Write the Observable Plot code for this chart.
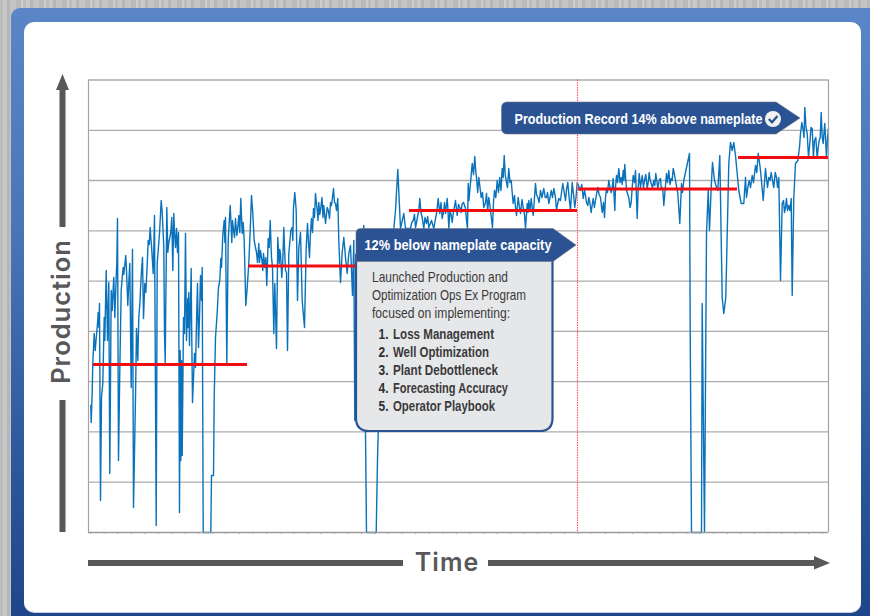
<!DOCTYPE html>
<html>
<head>
<meta charset="utf-8">
<script src="https://cdn.jsdelivr.net/npm/d3@7"></script>
<script src="https://cdn.jsdelivr.net/npm/@observablehq/plot@0.6"></script>
<style>
html,body{margin:0;padding:0;width:870px;height:616px;overflow:hidden;background:#c4c4c4}
#stage{position:relative;width:870px;height:616px;overflow:hidden;
 background:repeating-linear-gradient(90deg,#bdbdbd 0 3px,#c8c8c8 3px 7px,#b6b6b6 7px 10px,#c4c4c4 10px 16px,#bababa 16px 21px,#cdcdcd 21px 23px)}
#frame{position:absolute;left:11px;top:8px;width:870px;height:620px;border-radius:9px;
 background:linear-gradient(180deg,#5a85c6 0%,#4a76b8 35%,#2f5a9f 70%,#1d4488 100%)}
#card{position:absolute;left:24px;top:22px;width:837px;height:590px;background:#fff;border-radius:10px;box-shadow:0 1px 0 #c5cfdf}
#chart,#overlay{position:absolute;left:0;top:0}
svg{display:block}
</style>
</head>
<body>
<div id="stage"><div id="frame"></div><div id="card"></div><div id="chart"></div><div id="overlay"></div></div>
<script>
const timeIndex = [2.3,2.7,3.7,4.3,5.7,6.7,7.7,9,9.7,11,12,13,14.3,15.7,16.3,17.7,19,20.3,21.3,22.7,23.7,25.3,26.3,27.7,29,30,31.3,32.7,33.7,34.7,36,37.3,39.3,41.3,42.7,44,45,47,48,49.3,50.3,52.3,54,55,56.3,58.3,59.7,61.7,63,64.7,66,67.7,68.7,71,72.7,74.7,76,76.7,78.3,79.3,81.3,83.3,84.3,85.3,87,88,90,91,91.7,92.3,93,93.7,95,96,97,98,99.3,101,102.7,104,106,107,109,110,112,113.7,114.7,115.7,122.3,123,125,125.7,127,128.7,130,131.3,132.3,133,134.3,135.7,137,138.3,139.7,141.7,142.7,144,145.3,147,148.3,150.3,152.3,153.7,155.7,157.3,158.7,160.3,161.7,163,164.3,165.7,167,169,170.3,172,173.7,175,176.3,178.3,179.7,181.7,183,185.3,186.3,188,189.3,190.7,192,193.3,195.3,197,199,200.3,202.3,203.7,205,206.3,207.7,209,210.3,212,213.7,216,217.7,219,221,223,225,227,228.7,230.3,232,235.3,237,238.7,241,243,245,247,249.3,250.3,252,253.7,255.3,257,258.7,260.3,262,264,265.3,266.3,268,271,273,275.3,276.5,278,287.7,289,290.3,292,295,298,301,304,307,309.3,312,315.3,317,322,324.7,327,329.3,331.3,333.7,335.3,338,340.3,345.3,348,349.7,351.3,353.7,355.3,357,358.7,360.3,362.7,364.7,367,368.7,371.3,373.7,377,379,379.7,381.3,383.7,386.3,388,390.3,392.7,395.3,398,400.3,402,404,406,408.7,411.3,413.7,415.7,417.7,420.3,422.7,424.7,426,428,429.7,432,434.7,437,438.7,440.3,442.7,444.7,447,449.3,452,455.3,458,460.3,462.7,465.3,468,470.3,472,474.3,477,479.3,482,483.7,486.3,488.7,492,494.7,497,499.3,501.3,502.7,504.7,507,509.3,512,513.7,516,518,520.3,522.7,524.7,526.3,528,530.3,532.7,534.7,536.3,538,540.3,542.7,544.7,547,548.7,550.7,553.7,556,558.7,560.7,562.7,565.3,567.3,569.3,572,573.7,575.3,578,580.3,582.7,584.7,587,589.3,591.3,593,595.3,598,601,601.7,603,613,613.7,616,618,619.7,621,622.7,624,626,628,629.3,631.3,633.7,635.3,637.3,640.3,642,643.7,645.3,647,648.7,650.3,652.7,655.3,657,659.3,662,663.7,667,669.7,672,674.7,677,680.3,682.7,685.3,688,690.3,692,693.7,696,698,700.3,702.7,703.7,705.3,707,709.3,712,714.7,716.3,718.7,721.3,723.7,726,728.7,730.7,732.7,734.7,736.3,738,740];
const production = [127,110,142,169,199,182,194,209,220,229,32,135,149,215,192,262,192,250,59,242,222,255,215,255,314,72,162,242,255,265,265,277,227,269,145,283,25,135,204,172,215,249,275,214,249,259,292,305,287,259,317,7,269,299,332,299,199,170,325,280,295,315,262,319,285,304,300,20,182,72,172,77,215,199,299,192,234,187,264,130,179,165,249,185,257,265,0,0,0,57,57,135,195,220,245,252,274,265,297,312,315,169,292,327,305,312,300,314,297,317,334,299,292,227,245,269,302,337,319,292,285,270,289,282,270,279,265,247,294,312,275,199,249,184,295,269,279,255,305,262,182,279,302,305,325,340,322,232,285,300,232,205,285,309,275,314,324,339,322,330,322,327,309,325,314,327,344,329,334,292,250,280,295,275,259,279,287,237,292,112,280,262,285,307,150,0,0,73,120,200,260,280,270,290,322,363,304,319,304,304,312,305,317,334,315,304,309,305,304,319,334,319,314,322,319,334,304,317,319,332,317,325,329,324,304,349,342,369,376,355,355,335,325,339,335,322,305,342,352,355,364,377,352,364,352,329,337,317,335,319,325,304,329,332,334,317,349,335,342,344,335,329,342,344,322,334,332,349,332,350,322,350,325,350,342,334,337,327,330,320,334,332,345,335,320,315,344,352,340,354,322,357,364,355,362,368,342,335,330,357,362,314,359,357,352,344,360,349,352,359,344,354,345,327,359,362,354,364,352,339,309,349,352,365,379,202,0,0,229,0,299,342,302,345,370,352,345,342,377,235,219,235,369,390,382,390,377,359,342,329,329,355,345,345,357,367,379,362,332,364,355,360,345,355,355,252,329,320,334,327,334,237,335,369,372,399,402,425,399,389,404,392,374,392,420,389,409,374,404];
const detailTime = [6.2,10.4,18.4,24.5,28.3,35.3,38,40.3,51.3,53,57.3,60.7,62.3,65.3,73.7,75.3,80.3,82.3,86,89,99.8,100.3,103,108,111,113,136.4,140.7,143.3,146,149.3,151.3,154.7,168,171,174.3,177.3,180.7,184,191.3,194.3,196,198,201.3,204.3,220,222,224,226,229.5,231.2,233.5,234.5,236,239.8,242,244,246,248,323.3,326,328,330.3,332.5,336.5,339.2,343,346.7,350.5,352.5,354.5,356,359.5,361.5,363.7,365.8,370,372.5,375,378,380.5,382.5,385,387.2,389.2,391.5,394,397,399.2,401,405,407.3,410,412.5,414.7,416.7,419,421.5,423.7,427,431,433.5,436,439.5,441.5,443.7,446,448,450.6,453.5,456.7,459,461.5,464,467,469,473,475.7,478,480.6,485,487.5,493.3,496,498,500.3,503.7,505.9,508,510.6,515,517,519,521.5,523.7,527,529,531.5,533.7,535.5,541.5,543.7,546,549.7,552,555,557.3,559.7,561.7,564,566.3,568.3,570.6,572.8,574.5,579,581.5,583.7,586,588.2,594,658,660.7,665,668.3,671,673.3,676,679,681.5,684,686.7,689,695,697,699,701.5,711,713.3,715.5,717.5,720,722.5,724.9,727.3,729.7,731.7,733.7,735.5,737.2,739];
const detailProduction = [190,205,225,240,270,258,262,250,228,262,240,288,295,285,320,285,290,300,300,280,205,240,220,210,215,232,290,310,290,295,305,300,310,280,270,262,275,285,265,283,272,285,260,290,292,290,300,300,315,312,318,335,315,320,322,330,335,330,322,310,318,310,322,320,315,316,312,312,326,330,318,330,322,322,310,325,328,320,330,312,332,355,358,362,340,345,340,330,322,330,330,335,340,342,355,358,345,350,340,325,325,333,318,320,322,325,335,338,330,335,335,340,335,335,335,328,340,340,343,335,338,335,348,342,330,335,328,325,338,338,330,335,340,345,345,345,350,350,348,352,325,345,350,345,345,345,358,350,352,345,347,352,352,343,340,350,348,352,358,345,340,335,352,350,360,370,348,350,345,352,352,360,345,332,325,322,322,385,410,395,405,375,405,375,395,385,395,395,400,390,395];
const targetStart = [5,160,321,490,650];
const targetEnd = [159,270,489,649,740];
const targetLevel = [168,266.5,322,343.5,375];
const gridLevels = [50.3,100.6,150.8,201.1,251.4,301.7,352,402.2,452.5];
const tickTimes = d3.range(0,55).map(i=>2+i*13.55);
const recordTime = 489;

const series = d3.sort([
  ...timeIndex.map((t,i)=>({t,v:production[i]})),
  ...detailTime.map((t,i)=>({t,v:detailProduction[i]}))
],d=>d.t);
const targets = targetStart.map((s,i)=>({s,e:targetEnd[i],v:targetLevel[i]}));

const plot = Plot.plot({
  width:870,height:616,
  marginLeft:88,marginRight:42,marginTop:79.5,marginBottom:84,
  style:{background:"transparent"},
  x:{domain:[0,740],label:null},
  y:{domain:[0,452.5],label:null},
  marks:[
    Plot.ruleY(gridLevels,{stroke:"#adadad",strokeWidth:1.3}),
    Plot.axisX({ticks:tickTimes,tickSize:2,tickFormat:()=>"",stroke:"#b5b5b5",label:null}),
    Plot.axisY({ticks:[],label:null}),
    Plot.line(series,{x:"t",y:"v",stroke:"#0a72bb",strokeWidth:1.4,curve:"linear"}),
    Plot.ruleY(targets,{x1:"s",x2:"e",y:"v",stroke:"#f10d12",strokeWidth:3}),
    Plot.ruleX([recordTime],{stroke:"#f4606c",strokeWidth:1.2,strokeDasharray:"1.5,1"}),
    Plot.ruleY([0],{stroke:"#9a9a9a",strokeWidth:1.5}),
    Plot.ruleX([0,740],{stroke:"#a3a3a3",strokeWidth:1.2})
  ]
});
document.getElementById("chart").appendChild(plot);

// annotation layer
const narrow='"Liberation Sans Narrow","Liberation Sans",sans-serif';
const svg=d3.select("#overlay").append("svg").attr("width",870).attr("height",616);
const dark="#58585a",navy="#2b5393";
// axis arrows
svg.append("path").attr("fill",dark).attr("d","M62.5 74L69 90H65.5V227H59.5V90H56Z");
svg.append("rect").attr("fill",dark).attr("x",59.5).attr("y",400).attr("width",6).attr("height",132);
svg.append("rect").attr("fill",dark).attr("x",88).attr("y",560).attr("width",315).attr("height",6);
svg.append("path").attr("fill",dark).attr("d","M488 560H814V556L830 563L814 569.5V566H488Z");
svg.append("text").text("Production").attr("transform","translate(70,311.5) rotate(-90)")
  .attr("text-anchor","middle").attr("font-family","Inter,'Open Sans',sans-serif").attr("font-weight",600)
  .attr("font-size",25.5).attr("fill",dark).attr("letter-spacing",1);
svg.append("text").text("Time").attr("x",447).attr("y",571).attr("text-anchor","middle")
  .attr("font-family","Inter,'Open Sans',sans-serif").attr("font-weight",600).attr("font-size",25).attr("letter-spacing",1).attr("fill",dark);

// callout body + header
svg.append("path").attr("fill","#e6e7e8").attr("stroke",navy).attr("stroke-width",2.2)
  .attr("d","M356 255V418Q356 431 369 431H540Q552.5 431 552.5 418V255Z");
svg.append("path").attr("fill",navy).attr("stroke","#6d7480").attr("stroke-width",.6)
  .attr("d","M361 228.5H553L576 245L553 261.5H356V233Q356 228.5 361 228.5Z");
const t=(s,x,y,opts={})=>svg.append("text").text(s).attr("x",x).attr("y",y)
  .attr("font-family",narrow).attr("font-size",opts.size||15).attr("font-weight",opts.w||400)
  .attr("fill",opts.fill||"#3a3a3c").attr("textLength",opts.len||null).attr("lengthAdjust","spacingAndGlyphs");
t("12% below nameplate capacity",364.5,249.8,{w:700,fill:"#fff",size:15,len:187});
t("Launched Production and",372,282.3,{len:136});
t("Optimization Ops Ex Program",372,300.3,{len:154});
t("focused on implementing:",372,318.3,{len:138});
const items=["Loss Management","Well Optimization","Plant Debottleneck","Forecasting Accuracy","Operator Playbook"];
const lens=[101,96,105,115,102];
items.forEach((s,i)=>{
  const y=338.8+i*18;
  t((i+1)+".",378.5,y,{w:700,fill:"#2f2f31",len:10});
  t(s,393,y,{w:700,fill:"#3a3a3c",len:lens[i]});
});
// record callout
svg.append("path").attr("fill",navy).attr("stroke","#6d7480").attr("stroke-width",.6)
  .attr("d","M507 102H776L800 118L776 134H507Q501.5 134 501.5 128V108Q501.5 102 507 102Z");
t("Production Record 14% above nameplate",514.5,123.8,{w:700,fill:"#fff",size:15,len:248});
svg.append("circle").attr("cx",773).attr("cy",119).attr("r",8).attr("fill","#f2f2f2");
svg.append("path").attr("fill","none").attr("stroke",navy).attr("stroke-width",2.3).attr("d","M768.8 119L772 122.2L777.5 116");
</script>
</body>
</html>
